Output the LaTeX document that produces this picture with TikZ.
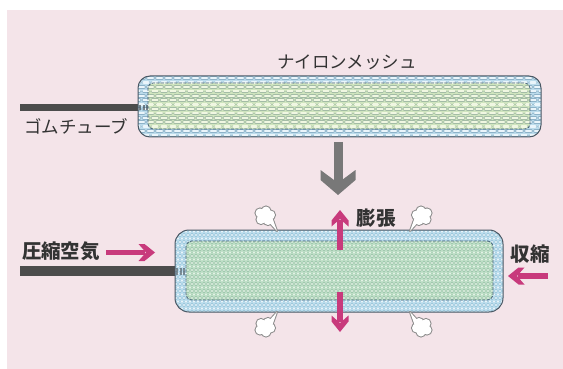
\documentclass[tikz,border=0pt]{standalone}
\usepackage{fontspec}
\newfontfamily\jp{Noto Sans CJK JP}
\definecolor{bgpink}{HTML}{F4E4E9}
\definecolor{tubegray}{HTML}{4C4C4C}
\definecolor{rimline}{HTML}{4A5864}
\definecolor{seamline}{HTML}{46627A}
\definecolor{wbase}{HTML}{BCDCEC}
\definecolor{wline}{HTML}{8DB2C8}
\definecolor{whi}{HTML}{EAF5FB}
\definecolor{gbase}{HTML}{CFE5BE}
\definecolor{gline}{HTML}{A3BCA6}
\definecolor{ghi}{HTML}{F0F7E2}
\definecolor{dbase}{HTML}{BADEEF}
\definecolor{dline}{HTML}{9AC2D6}
\definecolor{dhi}{HTML}{E8F5FB}
\definecolor{dgbase}{HTML}{BDE0C6}
\definecolor{dgline}{HTML}{9CC2AA}
\definecolor{dghi}{HTML}{E2F3E4}
\definecolor{magenta}{HTML}{C83A7C}
\definecolor{arrowgray}{HTML}{787878}
\definecolor{puffline}{HTML}{8C8C8C}
\definecolor{txt}{HTML}{333333}
\tikzset{
  weaveout/.style={line width=3.6pt, dash pattern=on 5pt off 4pt, line cap=round},
  weavein/.style={line width=2.2pt, dash pattern=on 5pt off 4pt, line cap=round},
  dotout/.style={line width=3.1pt, dash pattern=on 0.01pt off 3.99pt, line cap=round},
  dotin/.style={line width=2.3pt, dash pattern=on 0.01pt off 3.99pt, line cap=round},
  rim/.style={draw=rimline, line width=1pt},
  seam/.style={draw=seamline, line width=0.8pt, dash pattern=on 3pt off 1.5pt},
  plainlabel/.style={text=txt, font=\jp\fontsize{17.5}{18}\selectfont, inner sep=0pt},
  boldlabel/.style={text=txt, font=\jp\bfseries\fontsize{19.5}{20}\selectfont, inner sep=0pt},
  pinkshaft/.style={draw=magenta, line width=5.8pt},
  grayshaft/.style={draw=arrowgray, line width=9pt},
  % chevron heads, drawn pointing along +x with the tip at the origin
  pinktip/.pic={
    \fill[magenta] (0,0) -- (-10.5,-8.5) -- (-16.5,-8.5) -- (-9,0) -- (-16.5,8.5) -- (-10.5,8.5) -- cycle;
  },
  graytip/.pic={
    \fill[arrowgray] (0,0) -- (-15,-17.5) -- (-25,-17.5) -- (-12,0) -- (-25,17.5) -- (-15,17.5) -- cycle;
  },
  puff/.pic={
    % outline pass: tail and lobes drawn thick, then filled white on top
    \draw[puffline, line width=2pt, line join=round] (1,3) -- (12,15) -- (7,1) -- cycle;
    \foreach \cx/\cy/\r in {-5/-3/4.5, 1/-5/4.5, 5.5/-1/4.5, 3/4.5/4.5, -4/3.5/4.5, 0/0/5}
      \draw[puffline, line width=2pt] (\cx,\cy) circle[radius=\r pt];
    \fill[white] (1,3) -- (12,15) -- (7,1) -- cycle;
    \foreach \cx/\cy/\r in {-5/-3/4.5, 1/-5/4.5, 5.5/-1/4.5, 3/4.5/4.5, -4/3.5/4.5, 0/0/5}
      \fill[white] (\cx,\cy) circle[radius=\r pt];
  }
}
\begin{document}
\begin{tikzpicture}[x=1pt, y=-1pt]
\useasboundingbox (0,0) rectangle (563,369);
\fill[white] (0,0) rectangle (563,369);
\fill[bgpink] (7,10) rectangle (563,369);

% ---------- upper tube and capsule (woven mesh) ----------
\coordinate (tubeA) at (20,107.5);
\coordinate (tubeB) at (139,107.5);
\draw[tubegray, line width=7pt] (tubeA) -- (tubeB);

\coordinate (t1) at (138,76);  \coordinate (t2) at (541,137);
\coordinate (ti1) at (148,83); \coordinate (ti2) at (530,129);

\begin{scope}
  \clip[rounded corners=12pt] (t1) rectangle (t2);
  \fill[wbase] (t1) rectangle (t2);
  \foreach \k in {0,...,13}{
    \pgfmathsetmacro\yy{78.2+4.4*\k}
    \pgfmathsetmacro\ph{mod(\k,2)*4.5}
    \draw[weaveout, draw=wline, dash phase=\ph pt] (130,\yy) -- (550,\yy);
    \draw[weavein, draw=whi, dash phase=\ph pt] (130,\yy) -- (550,\yy);
  }
\end{scope}
\begin{scope}
  \clip[rounded corners=5pt] (ti1) rectangle (ti2);
  \fill[gbase] (ti1) rectangle (ti2);
  \foreach \k in {0,...,13}{
    \pgfmathsetmacro\yy{78.2+4.4*\k}
    \pgfmathsetmacro\ph{mod(\k,2)*4.5}
    \draw[weaveout, draw=gline, dash phase=\ph pt] (130,\yy) -- (550,\yy);
    \draw[weavein, draw=ghi, dash phase=\ph pt] (130,\yy) -- (550,\yy);
  }
\end{scope}
\draw[tubegray!70!seamline, line width=5pt, dash pattern=on 2pt off 1.5pt, opacity=0.7] (139,107.5) -- (148,107.5);
\draw[seam, rounded corners=5pt] (ti1) rectangle (ti2);
\draw[rim, rounded corners=12pt] (t1) rectangle (t2);

\node[plainlabel] (nylon) at (347,62) {ナイロンメッシュ};
\node[plainlabel] (rubber) at (76,126) {ゴムチューブ};

% ---------- transition arrow ----------
\coordinate (gA) at (338,142);
\coordinate (gB) at (338,195);
\coordinate (gS) at (338,183);
\draw[grayshaft] (gA) -- (gS);
\pic[rotate=-90] (gtip) at (gB) {graytip};

% ---------- lower tube and capsule (stretched mesh) ----------
\coordinate (tubeC) at (20,271);
\coordinate (tubeD) at (176,271);
\draw[tubegray, line width=10pt] (tubeC) -- (tubeD);

\coordinate (b1) at (175,230);  \coordinate (b2) at (503,312);
\coordinate (bi1) at (186,241); \coordinate (bi2) at (493,300);

\begin{scope}
  \clip[rounded corners=14pt] (b1) rectangle (b2);
  \fill[dbase] (b1) rectangle (b2);
  \foreach \k in {0,...,23}{
    \pgfmathsetmacro\yy{231.5+3.5*\k}
    \pgfmathsetmacro\ph{mod(\k,2)*2}
    \draw[dotout, draw=dline, dash phase=\ph pt] (170,\yy) -- (510,\yy);
    \draw[dotin, draw=dhi, dash phase=\ph pt] (170,\yy) -- (510,\yy);
  }
\end{scope}
\begin{scope}
  \clip[rounded corners=6pt] (bi1) rectangle (bi2);
  \fill[dgbase] (bi1) rectangle (bi2);
  \foreach \k in {0,...,23}{
    \pgfmathsetmacro\yy{231.5+3.5*\k}
    \pgfmathsetmacro\ph{mod(\k,2)*2}
    \draw[dotout, draw=dgline, dash phase=\ph pt] (170,\yy) -- (510,\yy);
    \draw[dotin, draw=dghi, dash phase=\ph pt] (170,\yy) -- (510,\yy);
  }
\end{scope}
\draw[tubegray!70!seamline, line width=7pt, dash pattern=on 2pt off 1.5pt, opacity=0.6] (176,271) -- (186,271);
\draw[seam, rounded corners=6pt] (bi1) rectangle (bi2);
\draw[rim, rounded corners=14pt] (b1) rectangle (b2);

% air puffs escaping along the long sides
\pic (puffA) at (265,216) {puff};
\pic[xscale=-1] (puffB) at (422,216) {puff};
\pic[yscale=-1] (puffC) at (265,327) {puff};
\pic[xscale=-1, yscale=-1] (puffD) at (422,327) {puff};

% compressed air in
\coordinate (airA) at (106,252.5);
\coordinate (airB) at (155,252.5);
\coordinate (airS) at (145,252.5);
\draw[pinkshaft] (airA) -- (airS);
\pic (airtip) at (airB) {pinktip};

% expansion, up and down
\coordinate (upA) at (340,250);
\coordinate (upB) at (340,210);
\coordinate (upS) at (340,220);
\draw[pinkshaft] (upA) -- (upS);
\pic[rotate=90] (uptip) at (upB) {pinktip};
\coordinate (dnA) at (340,292);
\coordinate (dnB) at (340,332);
\coordinate (dnS) at (340,322);
\draw[pinkshaft] (dnA) -- (dnS);
\pic[rotate=-90] (dntip) at (dnB) {pinktip};

% contraction
\coordinate (ctA) at (548,276);
\coordinate (ctB) at (508,276);
\coordinate (ctS) at (518,276);
\draw[pinkshaft] (ctA) -- (ctS);
\pic[rotate=180] (cttip) at (ctB) {pinktip};

\node[boldlabel] (air) at (61,251) {圧縮空気};
\node[boldlabel] (expand) at (376,218) {膨張};
\node[boldlabel] (shrink) at (530,254) {収縮};
\end{tikzpicture}
\end{document}
